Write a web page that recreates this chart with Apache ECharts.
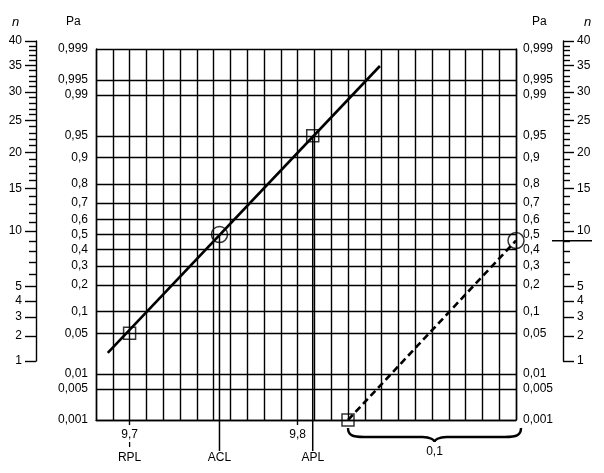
<!DOCTYPE html>
<html><head><meta charset="utf-8">
<script src="https://cdn.jsdelivr.net/npm/echarts@6/dist/echarts.min.js"></script>
<style>html,body{margin:0;padding:0;background:#fff}#c{width:604px;height:473px}</style>
</head><body><div id="c"></div>
<script>
// ---- data ----
const PA_TICKS = [0.001,0.005,0.01,0.05,0.1,0.2,0.3,0.4,0.5,0.6,0.7,0.8,0.9,0.95,0.99,0.995,0.999];
const PA_LABELS = ['0,001','0,005','0,01','0,05','0,1','0,2','0,3','0,4','0,5','0,6','0,7','0,8','0,9','0,95','0,99','0,995','0,999'];
const X_MIN = 9.68, X_MAX = 9.93, X_STEP = 0.01;
const X_TICKS = [9.7, 9.8];
const X_LABELS = ['9,7', '9,8'];
const N_MAJOR = [1,2,3,4,5,10,15,20,25,30,35,40];
const N_MINOR = [6,7,8,9,11,12,13,14,16,17,18,19,21,22,23,24,26,27,28,29,31,32,33,34,36,37,38,39];
const N_MIN = 1, N_MAX = 40;
const N_MARK = 9;
const LINE_X = [9.687, 9.849];
const LINE_PA = [0.0244, 0.9975];
const DASH_X = [9.83, 9.93];
const DASH_PA = [0.001, 0.46];
const SQUARE_X = [9.70, 9.809, 9.83];
const SQUARE_PA = [0.05, 0.95, 0.001];
const CIRCLE_X = [9.7535, 9.93];
const CIRCLE_PA = [0.5, 0.46];
const LEAD_X = [9.70, 9.7535, 9.809];
const LEAD_PA = [0.05, 0.5, 0.95];
const LEAD_LABELS = ['RPL', 'ACL', 'APL'];
const BRACE_X = [9.83, 9.93];
const BRACE_LABEL = '0,1';

// ---- normal probability scale ----
function probit(p){
  const a=[-3.969683028665376e+01,2.209460984245205e+02,-2.759285104469687e+02,1.383577518672690e+02,-3.066479806614716e+01,2.506628277459239e+00];
  const b=[-5.447609879822406e+01,1.615858368580409e+02,-1.556989798598866e+02,6.680131188771972e+01,-1.328068155288572e+01];
  const c=[-7.784894002430293e-03,-3.223964580411365e-01,-2.400758277161838e+00,-2.549732539343734e+00,4.374664141464968e+00,2.938163982698783e+00];
  const d=[7.784695709041462e-03,3.224671290700398e-01,2.445134137142996e+00,3.754408661907416e+00];
  const pl=0.02425, ph=1-pl; let q,r;
  if(p<pl){q=Math.sqrt(-2*Math.log(p));return (((((c[0]*q+c[1])*q+c[2])*q+c[3])*q+c[4])*q+c[5])/((((d[0]*q+d[1])*q+d[2])*q+d[3])*q+1);}
  if(p<=ph){q=p-0.5;r=q*q;return (((((a[0]*r+a[1])*r+a[2])*r+a[3])*r+a[4])*r+a[5])*q/(((((b[0]*r+b[1])*r+b[2])*r+b[3])*r+b[4])*r+1);}
  q=Math.sqrt(-2*Math.log(1-p));return -(((((c[0]*q+c[1])*q+c[2])*q+c[3])*q+c[4])*q+c[5])/((((d[0]*q+d[1])*q+d[2])*q+d[3])*q+1);
}
const Z_MAX = probit(PA_TICKS[PA_TICKS.length-1]);
const Z_MIN = -Z_MAX;
const Z_TICKS = PA_TICKS.map(probit);
function nearest(arr, v){ let bi=0, bd=Infinity; arr.forEach((a,i)=>{const d=Math.abs(a-v); if(d<bd){bd=d;bi=i;}}); return bi; }

const FONT = 'Liberation Sans, Arial, Helvetica, sans-serif';
const INK = '#000';
const GL = {color: INK, width: 1.4};
const txt = {color: INK, fontSize: 12, fontFamily: FONT};

function nAxis(gridIndex, position, offset, values, major){
  return {
    gridIndex, type: 'value', position, offset,
    min: Math.sqrt(N_MIN), max: Math.sqrt(N_MAX),
    axisLine: {show: major, onZero: false, lineStyle: GL},
    axisTick: {show: true, customValues: values.map(Math.sqrt), length: major ? 11 : 7, lineStyle: GL},
    axisLabel: major ? Object.assign({show: true, customValues: values.map(Math.sqrt), margin: 14,
      formatter: v => String(Math.round(v*v))}, txt) : {show: false},
    splitLine: {show: false}
  };
}
function hiddenX(gridIndex){
  return {gridIndex, type: 'value', min: 0, max: 1, show: false, axisLine:{onZero:false}};
}

const chart = echarts.init(document.getElementById('c'), null, {renderer: 'canvas'});
chart.setOption({
  backgroundColor: '#fff',
  animation: false,
  grid: [
    {left: 96, right: 88, top: 49, bottom: 53},
    {left: 36, width: 1, top: 41, bottom: 112},
    {left: 552, width: 40, top: 41, bottom: 112}
  ],
  xAxis: [
    {gridIndex: 0, type: 'value', min: X_MIN, max: X_MAX, interval: X_STEP, position: 'bottom',
     axisLine: {show: true, onZero: false, lineStyle: GL}, axisTick: {show: false}, axisLabel: {show: false},
     splitLine: {show: true, lineStyle: GL}},
    {gridIndex: 0, type: 'value', min: X_MIN, max: X_MAX, position: 'bottom',
     axisLine: {show: false, onZero: false},
     axisTick: {show: true, customValues: X_TICKS, length: 5, lineStyle: GL},
     axisLabel: Object.assign({show: true, customValues: X_TICKS, margin: 9,
       formatter: v => X_LABELS[nearest(X_TICKS, v)]}, txt),
     splitLine: {show: false}},
    hiddenX(1), hiddenX(2)
  ],
  yAxis: [
    {gridIndex: 0, type: 'value', min: Z_MIN, max: Z_MAX, position: 'left',
     axisLine: {show: true, onZero: false, lineStyle: GL},
     axisTick: {show: false, customValues: Z_TICKS},
     axisLabel: Object.assign({show: true, customValues: Z_TICKS, margin: 8,
       formatter: v => PA_LABELS[nearest(Z_TICKS, v)]}, txt),
     splitLine: {show: true, lineStyle: GL}},
    {gridIndex: 0, type: 'value', min: Z_MIN, max: Z_MAX, position: 'right',
     axisLine: {show: true, onZero: false, lineStyle: GL},
     axisTick: {show: false, customValues: Z_TICKS},
     axisLabel: Object.assign({show: true, customValues: Z_TICKS, margin: 7,
       formatter: v => PA_LABELS[nearest(Z_TICKS, v)]}, txt),
     splitLine: {show: false}},
    nAxis(1, 'left', 0, N_MAJOR, true),
    nAxis(1, 'left', 0, N_MINOR, false),
    nAxis(2, 'right', -29, N_MAJOR, true),
    nAxis(2, 'right', -29, N_MINOR, false)
  ],
  graphic: [
    {type: 'text', left: 66, top: 16, style: {text: 'Pa', font: '12px ' + FONT, fill: INK}},
    {type: 'text', left: 12, top: 16, style: {text: 'n', font: 'italic 13px ' + FONT, fill: INK}},
    {type: 'text', left: 532, top: 16, style: {text: 'Pa', font: '12px ' + FONT, fill: INK}},
    {type: 'text', left: 584, top: 16, style: {text: 'n', font: 'italic 13px ' + FONT, fill: INK}}
  ],
  series: [
    {type: 'line', xAxisIndex: 0, yAxisIndex: 0, symbol: 'none', silent: true,
     data: LINE_X.map((x, i) => [x, probit(LINE_PA[i])]),
     lineStyle: {color: INK, width: 2.6}},
    {type: 'line', xAxisIndex: 0, yAxisIndex: 0, symbol: 'none', silent: true, clip: false,
     data: DASH_X.map((x, i) => [x, probit(DASH_PA[i])]),
     lineStyle: {color: INK, width: 2.6, type: [7, 4]}},
    {type: 'scatter', xAxisIndex: 0, yAxisIndex: 0, symbol: 'rect', symbolSize: 12, clip: false, z: 5,
     data: SQUARE_X.map((x, i) => [x, probit(SQUARE_PA[i])]),
     itemStyle: {color: 'rgba(0,0,0,0)', borderColor: INK, borderWidth: 1.5}},
    {type: 'scatter', xAxisIndex: 0, yAxisIndex: 0, symbol: 'circle', symbolSize: 16, clip: false, z: 5,
     data: CIRCLE_X.map((x, i) => [x, probit(CIRCLE_PA[i])]),
     itemStyle: {color: 'rgba(0,0,0,0)', borderColor: INK, borderWidth: 1.5}},
    {type: 'custom', xAxisIndex: 0, yAxisIndex: 0, silent: true,
     data: LEAD_X.map((x, i) => [x, probit(LEAD_PA[i]), i]),
     renderItem: function (params, api) {
       const x = api.value(0), i = api.value(2);
       const p = api.coord([x, api.value(1)]);
       const base = api.coord([x, Z_MIN])[1];
       const children = [];
       if (X_TICKS.indexOf(x) >= 0) {
         children.push({type: 'line', shape: {x1: p[0], y1: base + 22, x2: p[0], y2: base + 27},
           style: {stroke: INK, lineWidth: 1.3}});
       } else {
         children.push({type: 'line', shape: {x1: p[0], y1: p[1], x2: p[0], y2: base + 31},
           style: {stroke: INK, lineWidth: 1.5}});
       }
       children.push({type: 'text', style: {text: LEAD_LABELS[i], x: p[0], y: base + 38,
         align: 'center', verticalAlign: 'middle', font: '12px ' + FONT, fill: INK}});
       return {type: 'group', children};
     }},
    {type: 'custom', xAxisIndex: 0, yAxisIndex: 0, silent: true,
     data: [[BRACE_X[0], BRACE_X[1]]],
     renderItem: function (params, api) {
       const a = api.coord([api.value(0), Z_MIN]);
       const b0 = api.coord([api.value(1), Z_MIN]);
       const ax = a[0], bx = b0[0] + 5, base = a[1];
       const y0 = base + 8, ym = base + 17, yt = base + 22, m = (ax + bx) / 2;
       const d = `M${ax} ${y0} C${ax} ${ym-2} ${ax+4} ${ym} ${ax+16} ${ym} L${m-12} ${ym} ` +
         `C${m-4} ${ym} ${m} ${yt-2} ${m} ${yt} C${m} ${yt-2} ${m+4} ${ym} ${m+12} ${ym} ` +
         `L${bx-16} ${ym} C${bx-4} ${ym} ${bx} ${ym-2} ${bx} ${y0}`;
       return {type: 'group', children: [
         {type: 'path', shape: {pathData: d}, style: {stroke: INK, lineWidth: 2.4, fill: null}},
         {type: 'text', style: {text: BRACE_LABEL, x: m, y: base + 32, align: 'center',
           verticalAlign: 'middle', font: '12px ' + FONT, fill: INK}}
       ]};
     }},
    {type: 'line', xAxisIndex: 3, yAxisIndex: 4, symbol: 'none', silent: true, clip: false,
     data: [[0, Math.sqrt(N_MARK)], [1, Math.sqrt(N_MARK)]],
     lineStyle: {color: INK, width: 1.6}}
  ]
});
</script></body></html>
